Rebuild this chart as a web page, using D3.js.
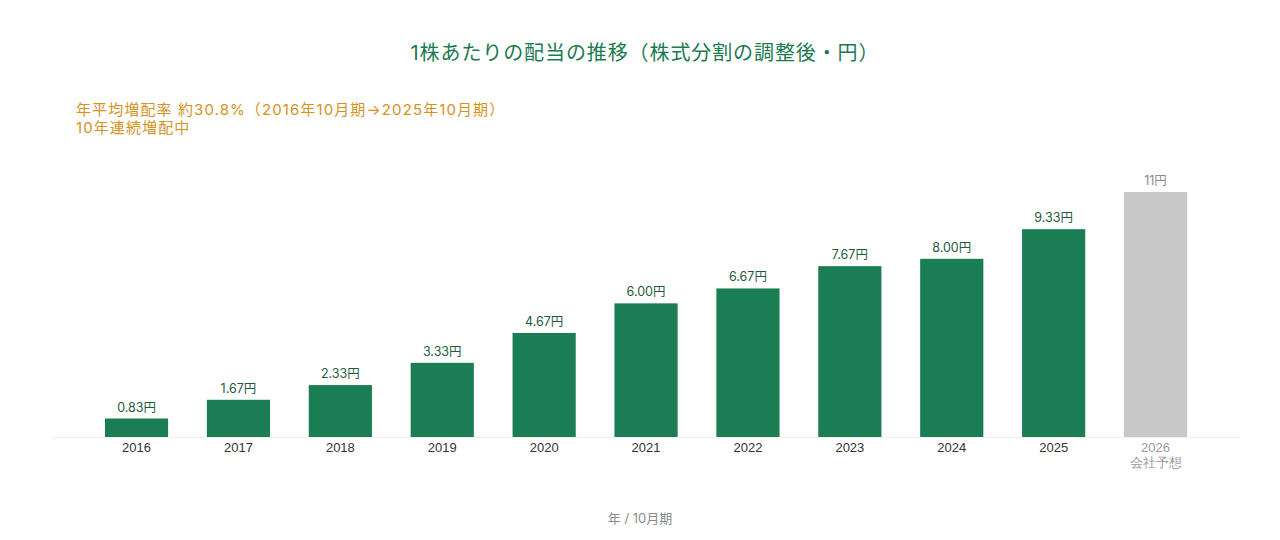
<!DOCTYPE html>
<html><head><meta charset="utf-8">
<script src="https://cdn.jsdelivr.net/npm/d3@7"></script>
<style>
html,body{margin:0;padding:0;background:#fff;}
svg{display:block;font-family:Inter,"Noto Sans CJK JP","Noto Sans",sans-serif;}
</style></head>
<body><svg id="c" width="1280" height="540"></svg>
<script>
const years = ["2016","2017","2018","2019","2020","2021","2022","2023","2024","2025","2026"];
const dividends = [0.83,1.67,2.33,3.33,4.67,6.00,6.67,7.67,8.00,9.33,11];
const valueLabels = ["0.83円","1.67円","2.33円","3.33円","4.67円","6.00円","6.67円","7.67円","8.00円","9.33円","11円"];
const forecastFlags = [false,false,false,false,false,false,false,false,false,false,true];
const forecastNote = "会社予想";
const titleText = "1株あたりの配当の推移（株式分割の調整後・円）";
const noteLines = ["年平均増配率 約30.8%（2016年10月期→2025年10月期）","10年連続増配中"];
const axisTitle = "年 / 10月期";

const svg = d3.select("#c");
const baseY = 437;
const x = d3.scaleBand().domain(years).range([85.6, 1206.5]).paddingInner(0.38).paddingOuter(0.19);
const y = d3.scaleLinear().domain([0, 11]).range([baseY, 192]);

svg.append("text").attr("x", 645).attr("y", 60).attr("text-anchor","middle")
  .attr("font-size", 20).attr("letter-spacing", 0.9).attr("fill", "#1b7a50").text(titleText);

svg.selectAll(".note").data(noteLines).enter().append("text")
  .attr("x", 76).attr("y", (d,i)=>115 + i*18).attr("font-size", 15).attr("letter-spacing", 1.1)
  .attr("fill", "#d6921c").text(d=>d);

svg.append("line").attr("x1", 52).attr("x2", 1240).attr("y1", baseY+0.5).attr("y2", baseY+0.5)
  .attr("stroke", "#f0f0f0").attr("stroke-width", 1);

const data = years.map((yr,i)=>({yr, v:dividends[i], label:valueLabels[i], f:forecastFlags[i]}));

svg.selectAll(".bar").data(data).enter().append("rect")
  .attr("x", d=>x(d.yr)).attr("width", x.bandwidth())
  .attr("y", d=>y(d.v)).attr("height", d=>baseY - y(d.v))
  .attr("fill", d=>d.f ? "#c8c8c8" : "#1b7d53");

svg.selectAll(".vl").data(data).enter().append("text")
  .attr("x", d=>x(d.yr)+x.bandwidth()/2).attr("y", d=>y(d.v)-7)
  .attr("text-anchor","middle").attr("font-size", 12.5)
  .attr("fill", d=>d.f ? "#8a8a8a" : "#1f5a3e").text(d=>d.label);

const xAxis = d3.axisBottom(x).tickSize(0).tickPadding(0);
const g = svg.append("g").attr("transform", `translate(0,${baseY})`).call(xAxis);
g.select(".domain").remove();
g.selectAll(".tick text").remove();
g.selectAll(".tick").each(function(d,i){
  const t = d3.select(this).append("text").attr("text-anchor","middle")
    .attr("font-size", 13).attr("fill", forecastFlags[i] ? "#9a9a9a" : "#333");
  t.append("tspan").attr("x",0).attr("y",15).text(d);
  if (forecastFlags[i]) t.append("tspan").attr("x",0).attr("y",30).attr("font-size",12.5).text(forecastNote);
});

svg.append("text").attr("x", 640).attr("y", 523).attr("text-anchor","middle")
  .attr("font-size", 13).attr("fill", "#8a8a8a").text(axisTitle);
</script></body></html>
